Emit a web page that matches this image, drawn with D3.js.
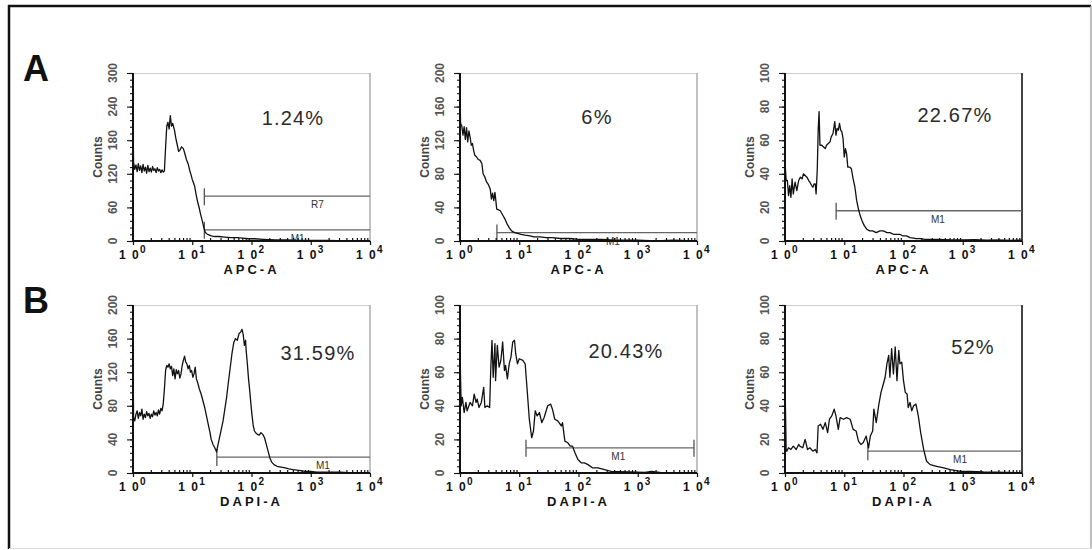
<!DOCTYPE html>
<html>
<head>
<meta charset="utf-8">
<script src="https://cdn.jsdelivr.net/npm/d3@7"></script>
<style>
body { margin: 0; background: #fff; }
text { font-family: "Liberation Sans", Arial, sans-serif; }
</style>
</head>
<body>
<div id="chart"></div>
<script>
// 1: DATA
const rowLetters = ["A", "B"];
const percentLabels = ["1.24%", "6%", "22.67%", "31.59%", "20.43%", "52%"];
const channelLabels = ["APC-A", "APC-A", "APC-A", "DAPI-A", "DAPI-A", "DAPI-A"];
const countMax = [300, 200, 100, 200, 100, 100];
const countStep = [60, 40, 20, 40, 20, 20];
const decadeExponents = [0, 1, 2, 3, 4];

// histograms: [log10 intensity, counts]
const histA1 = [[0,0],[0,222],[0.01,140],[0.03,128],[0.05,136],[0.07,124],[0.09,138],[0.11,126],[0.13,134],[0.15,122],[0.17,137],[0.19,125],[0.21,132],[0.23,121],[0.25,135],[0.27,124],[0.29,130],[0.31,123],[0.33,133],[0.35,126],[0.37,129],[0.39,122],[0.41,131],[0.43,125],[0.45,128],[0.47,122],[0.49,127],[0.51,123],[0.53,125],[0.55,167],[0.57,205],[0.59,212],[0.61,200],[0.63,224],[0.65,205],[0.67,210],[0.70,198],[0.72,185],[0.74,175],[0.77,160],[0.79,162],[0.82,168],[0.85,165],[0.87,158],[0.90,146],[0.93,138],[0.96,125],[0.98,118],[1.00,110],[1.02,104],[1.04,98],[1.06,86],[1.08,75],[1.10,66],[1.12,58],[1.14,48],[1.16,40],[1.18,31],[1.20,22],[1.22,16],[1.24,13],[1.28,11],[1.32,9],[1.38,8],[1.45,8],[1.55,7],[1.65,6],[1.75,6],[1.85,5],[1.95,4],[2.05,4],[2.2,3],[2.4,2],[2.6,2],[2.8,1],[3.0,1],[3.3,1],[3.6,0],[4,0]];
const histA2 = [[0,0],[0,173],[0.01,140],[0.03,137],[0.05,126],[0.07,136],[0.09,121],[0.11,135],[0.13,118],[0.15,131],[0.17,124],[0.19,114],[0.21,116],[0.23,108],[0.25,102],[0.28,100],[0.31,97],[0.34,96],[0.37,92],[0.39,80],[0.42,76],[0.45,70],[0.48,67],[0.51,62],[0.53,50],[0.55,57],[0.57,48],[0.59,58],[0.62,38],[0.65,37],[0.68,36],[0.72,31],[0.76,26],[0.79,21],[0.83,16],[0.87,12],[0.92,10],[0.97,9],[1.03,8],[1.10,7],[1.18,6],[1.25,5],[1.35,5],[1.45,4],[1.55,4],[1.7,3],[1.85,3],[2.0,2],[2.2,2],[2.4,2],[2.6,1],[2.8,1],[3.0,1],[3.3,0],[3.6,1],[4,0]];
const histA3 = [[0,0],[0,47],[0.02,36],[0.04,36],[0.06,27],[0.08,33],[0.10,26],[0.12,37],[0.14,28],[0.17,35],[0.20,30],[0.23,36],[0.26,38],[0.29,37],[0.31,40],[0.34,39],[0.37,38],[0.40,36],[0.42,35],[0.45,33],[0.47,32],[0.49,34],[0.51,34],[0.525,28],[0.545,43],[0.56,66],[0.575,77],[0.59,57],[0.62,57],[0.65,56],[0.68,55],[0.70,57],[0.73,58],[0.76,59],[0.78,62],[0.81,64],[0.84,71],[0.86,63],[0.88,67],[0.90,66],[0.92,70],[0.94,66],[0.96,65],[0.98,61],[1.0,50],[1.02,55],[1.04,52],[1.06,44],[1.09,44],[1.12,43],[1.15,37],[1.18,32],[1.21,24],[1.24,19],[1.27,15],[1.30,12],[1.34,9],[1.38,7],[1.43,6],[1.48,6],[1.54,5],[1.60,6],[1.66,6],[1.72,5],[1.77,5],[1.83,4],[1.88,4],[1.94,4],[1.99,3],[2.05,3],[2.11,2],[2.2,1.5],[2.28,1.4],[2.36,1],[2.44,1],[2.6,1],[2.8,0.6],[3.0,0.6],[3.2,0.8],[3.4,0.5],[3.6,0.6],[3.8,0.4],[4,0.5]];
const histB1 = [[0,0],[0,139],[0.01,66],[0.03,62],[0.05,70],[0.07,74],[0.09,65],[0.11,72],[0.13,68],[0.15,76],[0.17,64],[0.19,70],[0.21,66],[0.23,73],[0.25,68],[0.27,71],[0.29,65],[0.31,70],[0.33,67],[0.35,74],[0.37,69],[0.39,72],[0.41,68],[0.43,75],[0.45,70],[0.47,77],[0.49,74],[0.51,82],[0.53,100],[0.55,122],[0.57,128],[0.59,126],[0.61,130],[0.63,124],[0.65,127],[0.67,116],[0.69,124],[0.71,112],[0.73,123],[0.75,118],[0.77,122],[0.79,113],[0.81,118],[0.83,128],[0.85,134],[0.87,139],[0.89,132],[0.91,130],[0.93,124],[0.95,128],[0.97,120],[0.99,122],[1.01,114],[1.03,118],[1.05,126],[1.07,112],[1.09,108],[1.12,100],[1.15,94],[1.18,86],[1.21,78],[1.24,68],[1.27,58],[1.30,48],[1.32,40],[1.35,34],[1.38,30],[1.40,27],[1.41,25],[1.43,32],[1.46,42],[1.49,52],[1.52,62],[1.55,76],[1.58,90],[1.61,108],[1.64,125],[1.67,142],[1.70,155],[1.73,160],[1.76,158],[1.79,166],[1.82,168],[1.84,171],[1.86,165],[1.88,152],[1.90,158],[1.91,146],[1.93,130],[1.95,112],[1.97,98],[1.99,82],[2.01,68],[2.03,56],[2.05,50],[2.07,48],[2.10,46],[2.13,45],[2.16,48],[2.19,46],[2.22,42],[2.25,34],[2.28,26],[2.31,18],[2.34,13],[2.38,10],[2.43,8],[2.5,7],[2.57,6],[2.63,5],[2.7,4],[2.8,3],[2.9,2],[3.0,2],[3.1,1],[3.3,1],[3.5,1],[3.7,0],[4,0]];
const histB2 = [[0,0],[0,72],[0.02,40],[0.04,45],[0.07,36],[0.10,42],[0.12,37],[0.17,42],[0.21,40],[0.24,47],[0.27,42],[0.29,44],[0.32,39],[0.36,42],[0.40,51],[0.42,39],[0.46,40],[0.50,39],[0.52,63],[0.54,79],[0.56,57],[0.59,77],[0.60,55],[0.63,76],[0.66,63],[0.69,67],[0.72,78],[0.75,61],[0.77,64],[0.80,56],[0.83,65],[0.86,69],[0.89,78],[0.92,79],[0.94,71],[0.97,65],[1.0,68],[1.06,67],[1.10,65],[1.13,51],[1.17,32],[1.21,21],[1.24,25],[1.27,37],[1.30,34],[1.34,36],[1.38,30],[1.42,33],[1.48,40],[1.53,41],[1.56,38],[1.60,32],[1.65,31],[1.71,28],[1.73,30],[1.77,19],[1.82,18],[1.86,16],[1.90,16],[1.94,12],[1.99,8],[2.05,6],[2.10,6],[2.16,5],[2.24,3],[2.33,3],[2.44,2],[2.55,1],[2.84,0.6],[3.12,0.4],[3.23,1],[3.40,0.2],[4,0]];
const histB3 = [[0,0],[0,55],[0.02,13],[0.03,13],[0.06,15],[0.10,14],[0.14,16],[0.19,14],[0.23,17],[0.25,16],[0.30,15],[0.34,20],[0.38,14],[0.42,15],[0.47,13],[0.51,14],[0.54,12],[0.56,28],[0.60,29],[0.64,26],[0.68,30],[0.72,24],[0.75,32],[0.79,34],[0.83,38],[0.86,34],[0.90,26],[0.93,33],[0.99,32],[1.04,33],[1.10,32],[1.15,26],[1.20,25],[1.24,19],[1.28,17],[1.32,18],[1.37,22],[1.41,15],[1.44,22],[1.48,25],[1.50,38],[1.54,30],[1.58,40],[1.62,48],[1.66,53],[1.69,57],[1.72,65],[1.75,70],[1.77,57],[1.80,74],[1.83,59],[1.86,75],[1.89,55],[1.92,73],[1.94,65],[1.97,66],[2.0,55],[2.03,48],[2.06,47],[2.08,39],[2.11,42],[2.14,37],[2.17,40],[2.21,41],[2.25,34],[2.29,24],[2.34,14],[2.39,7],[2.45,5],[2.56,4],[2.68,3],[2.79,2],[2.96,1],[3.13,1],[3.35,0.6],[3.97,0.2]];
const histograms = [histA1, histA2, histA3, histB1, histB2, histB3];

// marker gates: intensity range, count level, label and where the label sits
const gatesA1 = [{ label: "R7", from: 16, to: 10000, level: 80, at: 1300 },
                 { label: "M1", from: 16, to: 10000, level: 20, at: 600 }];
const gatesA2 = [{ label: "M1", from: 4.2, to: 10000, level: 10, at: 380 }];
const gatesA3 = [{ label: "M1", from: 7.3, to: 10000, level: 18, at: 380 }];
const gatesB1 = [{ label: "M1", from: 26, to: 10000, level: 19, at: 1600 }];
const gatesB2 = [{ label: "M1", from: 13, to: 8900, level: 15, at: 470 }];
const gatesB3 = [{ label: "M1", from: 25, to: 10000, level: 13, at: 900 }];
const gates = [gatesA1, gatesA2, gatesA3, gatesB1, gatesB2, gatesB3];

// 2: LAYOUT
const W = 1092, H = 550;
const colX = [133, 460, 785];
const rowY = [73, 305];
const pw = 237, ph = 168;

const svg = d3.select("#chart").append("svg")
    .attr("width", W)
    .attr("height", H);

// outer frame
svg.append("line").attr("x1", 9).attr("x2", 9).attr("y1", 5).attr("y2", 549)
    .attr("stroke", "#111").attr("stroke-width", 2.5);
svg.append("line").attr("x1", 8).attr("x2", 1091).attr("y1", 6).attr("y2", 6)
    .attr("stroke", "#111").attr("stroke-width", 2.5);
svg.append("line").attr("x1", 1091).attr("x2", 1091).attr("y1", 6).attr("y2", 549)
    .attr("stroke", "#aaa").attr("stroke-width", 1.5);
svg.append("line").attr("x1", 9).attr("x2", 1091).attr("y1", 548.5).attr("y2", 548.5)
    .attr("stroke", "#ddd").attr("stroke-width", 1);

// row letters
rowLetters.forEach((l, r) => {
    svg.append("text")
        .attr("x", 23)
        .attr("y", rowY[r] + 8)
        .attr("font-size", 36)
        .attr("font-weight", "bold")
        .attr("fill", "#111")
        .text(l);
});

const xMinor = [];
for (let e = 0; e < 4; e++) for (let m = 2; m <= 9; m++) xMinor.push(m * 10 ** e);

// 3: PANELS
histograms.forEach((hist, i) => {
    const col = i % 3, row = Math.floor(i / 3);
    const g = svg.append("g")
        .attr("transform", `translate(${colX[col]},${rowY[row]})`);

    const x = d3.scaleLog().domain([1, 10000]).range([0, pw]);
    const y = d3.scaleLinear().domain([0, countMax[i]]).range([ph, 0]);

    // frame top / right
    g.append("line").attr("x1", 0).attr("x2", pw).attr("y1", 0.5).attr("y2", 0.5)
        .attr("stroke", "#ccc");
    g.append("line").attr("x1", pw).attr("x2", pw).attr("y1", 0).attr("y2", ph)
        .attr("stroke", col === 2 ? "#444" : "#999").attr("stroke-width", col === 2 ? 2 : 1.2);

    // gates
    gates[i].forEach(gt => {
        const gy = y(gt.level);
        g.append("line")
            .attr("x1", x(gt.from)).attr("x2", x(gt.to))
            .attr("y1", gy).attr("y2", gy)
            .attr("stroke", "#666").attr("stroke-width", 1.3);
        g.append("line")
            .attr("x1", x(gt.from)).attr("x2", x(gt.from))
            .attr("y1", gy - 8).attr("y2", Math.min(gy + 9, ph))
            .attr("stroke", "#555").attr("stroke-width", 1.3);
        if (gt.to < 10000) {
            g.append("line")
                .attr("x1", x(gt.to)).attr("x2", x(gt.to))
                .attr("y1", gy - 8).attr("y2", Math.min(gy + 9, ph))
                .attr("stroke", "#555").attr("stroke-width", 1.3);
        }
        g.append("text")
            .attr("x", x(gt.at))
            .attr("y", gy + 12)
            .attr("text-anchor", "middle")
            .attr("font-size", 10)
            .attr("fill", "#333")
            .text(gt.label);
    });

    // histogram
    const line = d3.line()
        .x(d => x(10 ** d[0]))
        .y(d => y(d[1]));
    g.append("path")
        .datum(hist)
        .attr("d", line)
        .attr("fill", "none")
        .attr("stroke", "#111")
        .attr("stroke-width", 1.3)
        .attr("stroke-linejoin", "round");

    // x axis
    const xAxisMinor = g.append("g")
        .attr("transform", `translate(0,${ph})`)
        .call(d3.axisBottom(x).tickValues(xMinor).tickSize(-3).tickFormat(""));
    const xAxisMajor = g.append("g")
        .attr("transform", `translate(0,${ph})`)
        .call(d3.axisBottom(x).tickValues(decadeExponents.map(e => 10 ** e)).tickSize(4).tickFormat(""));
    [xAxisMinor, xAxisMajor].forEach(a => {
        a.select(".domain").remove();
        a.selectAll("line").attr("stroke", "#111").attr("stroke-width", 1.2);
    });
    g.append("line").attr("x1", 0).attr("x2", pw).attr("y1", ph).attr("y2", ph)
        .attr("stroke", "#111").attr("stroke-width", 1.8);

    decadeExponents.forEach(e => {
        const t = g.append("text")
            .attr("x", x(10 ** e))
            .attr("y", ph + 18)
            .attr("text-anchor", "middle")
            .attr("font-size", 12)
            .attr("font-weight", "bold")
            .attr("letter-spacing", 1.5)
            .attr("fill", "#111");
        t.append("tspan").text("1 0");
        t.append("tspan").attr("dy", -6).attr("font-size", 10).text(e);
    });

    g.append("text")
        .attr("x", pw / 2)
        .attr("y", ph + 33)
        .attr("text-anchor", "middle")
        .attr("font-size", 13)
        .attr("font-weight", "bold")
        .attr("letter-spacing", 3)
        .attr("fill", "#111")
        .text(channelLabels[i]);

    // y axis
    const yMajor = d3.range(0, countMax[i] + 1, countStep[i]);
    const yMinor = d3.range(0, countMax[i] + 0.1, countStep[i] / 5);
    const yAxisMinor = g.append("g").call(d3.axisLeft(y).tickValues(yMinor).tickSize(3).tickFormat(""));
    const yAxisMajor = g.append("g").call(d3.axisLeft(y).tickValues(yMajor).tickSize(6).tickFormat(""));
    [yAxisMinor, yAxisMajor].forEach(a => {
        a.select(".domain").remove();
        a.selectAll("line").attr("stroke", "#111").attr("stroke-width", 1.1);
    });
    g.append("line").attr("x1", 0).attr("x2", 0).attr("y1", 0).attr("y2", ph + 1)
        .attr("stroke", "#111").attr("stroke-width", 2);

    yMajor.forEach(v => {
        g.append("text")
            .attr("transform", `translate(-16,${y(v)}) rotate(-90)`)
            .attr("text-anchor", "middle")
            .attr("font-size", 12)
            .attr("font-weight", "bold")
            .attr("fill", "#555")
            .text(v);
    });

    g.append("text")
        .attr("transform", `translate(-31,${ph / 2}) rotate(-90)`)
        .attr("text-anchor", "middle")
        .attr("font-size", 12)
        .attr("font-weight", "bold")
        .attr("fill", "#444")
        .text("Counts");

    // percentage
    g.append("text")
        .attr("x", [160, 137, 170, 185, 166, 188][i])
        .attr("y", [52, 51, 49, 55, 53, 49][i])
        .attr("text-anchor", "middle")
        .attr("font-family", "DejaVu Sans, sans-serif")
        .attr("font-size", 20)
        .attr("letter-spacing", 1.2)
        .attr("fill", "#2a2a2a")
        .text(percentLabels[i]);
});
</script>
</body>
</html>
